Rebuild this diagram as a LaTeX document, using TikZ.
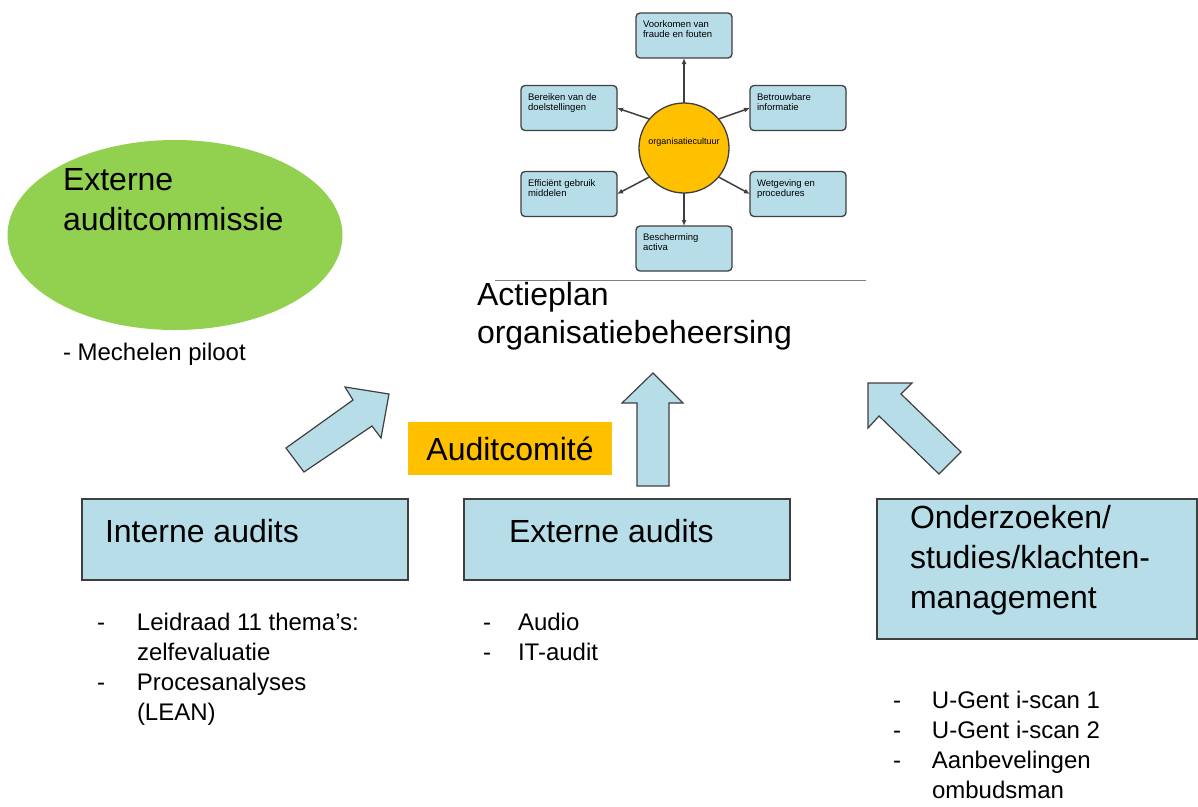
\documentclass[tikz,border=0pt]{standalone}
\usepackage{fontspec}
\setmainfont{Liberation Sans}
\usepackage{tikz}
\usetikzlibrary{positioning, shapes.geometric, arrows.meta}

\definecolor{lichtblauw}{HTML}{B7DEE8}
\definecolor{oranje}{HTML}{FFC000}
\definecolor{groen}{HTML}{92D050}
\definecolor{rand}{HTML}{3F3F3F}

\newcommand{\groot}{\fontsize{32}{40}\selectfont}
\newcommand{\klein}{\fontsize{24}{30}\selectfont}
\newcommand{\mini}{\fontsize{9.5}{10}\selectfont}
\newcommand{\doeltekst}[1]{\parbox[c][29pt][t]{82pt}{#1}}

\begin{document}
\begin{tikzpicture}[x = 1pt, y = -1pt,
    every node/.style = { inner sep = 0pt, outer sep = 0pt },
    doel/.style = { draw = rand, fill = lichtblauw, line width = 1.3pt, rounded corners = 4pt,
                    inner xsep = 7pt, inner ysep = 8pt, font = \mini },
    vak/.style = { draw = rand, fill = lichtblauw, line width = 1.5pt, anchor = north west },
    tekst/.style = { anchor = base west, align = left, font = \groot },
    lijst/.style = { anchor = base west, font = \klein },
    pijl/.style = { draw = rand, fill = lichtblauw, line width = 1.2pt },
    lijn/.style = { draw = rand, line width = 1.5pt, -{Latex[length = 6pt, width = 5pt]} }]
  \useasboundingbox (0,0) rectangle (1198,806);

  % externe auditcommissie
  \node [ellipse, fill = groen, minimum width = 335pt, minimum height = 190pt] (commissie) at (175,235) {};
  \node [tekst] (commissietekst) at (63,230) {Externe\\auditcommissie};
  \node [tekst, font = \klein] (piloot) at (63,360) {- Mechelen piloot};

  % organisatiecultuur en de doelen
  \node [circle, draw = rand, fill = oranje, line width = 1.3pt, minimum size = 90pt] (cultuur) at (684,148) {};
  \node [font = \fontsize{9}{9}\selectfont] (cultuurtekst) at (684,142) {organisatiecultuur};
  \node [doel, above = 45pt of cultuur] (fraude) {\doeltekst{Voorkomen van\\fraude en fouten}};
  \node [doel] (bereiken) at (569,108) {\doeltekst{Bereiken van de\\doelstellingen}};
  \node [doel] (betrouwbaar) at (798,108) {\doeltekst{Betrouwbare\\informatie}};
  \node [doel] (efficient) at (569,194) {\doeltekst{Efficiënt gebruik\\middelen}};
  \node [doel] (wetgeving) at (798,194) {\doeltekst{Wetgeving en\\procedures}};
  \node [doel, below = 33pt of cultuur] (bescherming) {\doeltekst{Bescherming\\activa}};

  \draw [lijn] (cultuur) -- (fraude);
  \draw [lijn] (cultuur.140) -- (bereiken.east);
  \draw [lijn] (cultuur.40) -- (betrouwbaar.west);
  \draw [lijn] (cultuur.220) -- (efficient.east);
  \draw [lijn] (cultuur.320) -- (wetgeving.west);
  \draw [lijn] (cultuur) -- (bescherming);

  \draw [gray, line width = 1pt] (495,280) -- (866,280);
  \node [tekst, font = \fontsize{32}{38}\selectfont] (actieplan) at (477,343) {Actieplan\\organisatiebeheersing};

  % pijlen naar het actieplan
  \draw [pijl] (286,448) -- (353,400) -- (345,387) -- (389,394) -- (381,438) -- (372,426) -- (304,472) -- cycle;
  \draw [pijl] (637,486) -- (637,403) -- (622,403) -- (653,373) -- (683,403) -- (669,403) -- (669,486) -- cycle;
  \draw [pijl] (961,452) -- (901,394) -- (912,383) -- (868,383) -- (868,428) -- (879,416) -- (939,474) -- cycle;

  \node [fill = oranje, minimum width = 204pt, minimum height = 53pt, font = \groot] (comite) at (510,448.5) {Auditcomité};

  % audits
  \node [vak, minimum width = 326pt, minimum height = 81pt] (intern) at (82,499) {};
  \node [tekst] (interntekst) at (105,542) {Interne audits};
  \node [vak, minimum width = 326pt, minimum height = 81pt] (extern) at (464,499) {};
  \node [tekst] (externtekst) at (509,542) {Externe audits};
  \node [vak, minimum width = 320pt, minimum height = 140pt] (onderzoek) at (877,499) {};
  \node [tekst] (onderzoektekst) at (910,608) {Onderzoeken/\\studies/klachten-\\management};

  \node [lijst] (internlijst) at (97,630) {\begin{tabular}[t]{@{}p{40pt}@{}l@{}}
      - & Leidraad 11 thema’s:\\ & zelfevaluatie\\ - & Procesanalyses\\ & (LEAN) \end{tabular}};
  \node [lijst] (externlijst) at (483,630) {\begin{tabular}[t]{@{}p{35pt}@{}l@{}}
      - & Audio\\ - & IT-audit \end{tabular}};
  \node [lijst] (onderzoeklijst) at (893,708) {\begin{tabular}[t]{@{}p{39pt}@{}l@{}}
      - & U-Gent i-scan 1\\ - & U-Gent i-scan 2\\ - & Aanbevelingen\\ & ombudsman \end{tabular}};
\end{tikzpicture}
\end{document}
